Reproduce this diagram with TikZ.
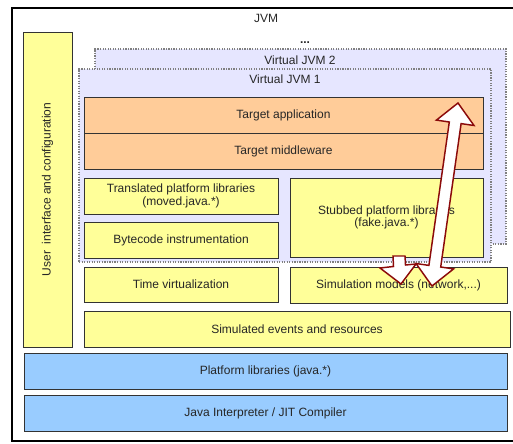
\documentclass[tikz,border=0pt]{standalone}
\usepackage{fontspec}
\setmainfont{Liberation Sans}
\usetikzlibrary{fit}
\definecolor{ylw}{HTML}{FFFF99}
\definecolor{org}{HTML}{FFCC99}
\definecolor{blu}{HTML}{99CCFF}
\definecolor{lav}{HTML}{E6E6FF}
\definecolor{arrowred}{HTML}{8B0A0A}
\begin{document}
\begin{tikzpicture}[x=0.75pt,y=-0.75pt,
  lbl/.style={font=\fontsize{9}{9.5}\selectfont, text=black!85, align=center, inner sep=0pt},
  box/.style={draw=black!80, line width=0.6pt, inner sep=0pt},
  ybox/.style={box, fill=ylw},
  obox/.style={box, fill=org},
  bbox/.style={box, fill=blu},
  vjvm/.style={draw=black!50, densely dotted, line width=0.9pt, fill=lav, inner sep=0pt},
  blockarrow/.style={draw=arrowred, fill=white, line width=1.1pt, line join=miter}]
\useasboundingbox (0,0) rectangle (513,443);
\begin{scope}
\clip (0,0) rectangle (513,443);
\node[draw=black, line width=1.5pt, inner sep=0pt, fit={(12,8)(520,441)}] (jvm) {};
\end{scope}
\node[lbl] (jvmlbl) at (266,18) {JVM};
% user interface
\node[ybox, fit={(23,32)(72,347)}] (ui) {};
\node[lbl, rotate=90] (uilbl) at (ui.center) {User\ \ interface and configuration};
% virtual JVMs
\node[lbl] (dots) at (305,43) {\textbf{...}};
\node[vjvm, fit={(95,49)(506,244)}] (vj2) {};
\node[lbl] (vj2lbl) at (300,60) {Virtual JVM 2};
\node[vjvm, fit={(79,69)(491,262)}] (vj1) {};
\node[lbl] (vj1lbl) at (285,79) {Virtual JVM 1};
% inner boxes
\node[obox, fit={(84,97)(483,133)}] (app) {};
\node[lbl] at (app.center) {Target application};
\node[obox, fit={(84,133)(483,169)}] (mw) {};
\node[lbl] at (mw.center) {Target middleware};
\node[ybox, fit={(84,178)(278,214)}] (trans) {};
\node[lbl] at (trans.center) {Translated platform libraries\\(moved.java.*)};
\node[ybox, fit={(84,222)(278,258)}] (bc) {};
\node[lbl] at (bc.center) {Bytecode instrumentation};
\node[ybox, fit={(290,178)(483,257)}] (stub) {};
\node[lbl] at (stub.center) {Stubbed platform libraries\\(fake.java.*)};
\node[ybox, fit={(84,267)(278,302)}] (time) {};
\node[lbl] at (time.center) {Time virtualization};
\node[ybox, fit={(290,267)(507,303)}] (sim) {};
\node[lbl] at (sim.center) {Simulation models (network,...)};
\node[ybox, fit={(84,311)(510,347)}] (ev) {};
\node[lbl] at (ev.center) {Simulated events and resources};
\node[bbox, fit={(24,353)(507,389)}] (plat) {};
\node[lbl] at (plat.center) {Platform libraries (java.*)};
\node[bbox, fit={(24,395)(507,431)}] (jit) {};
\node[lbl] at (jit.center) {Java Interpreter / JIT Compiler};
% block arrows
\draw[blockarrow] (393,256) -- (405,256) -- (405.5,265) -- (416,264) -- (401,284)
  -- (380,268) -- (393.5,266.5) -- cycle;
\draw[blockarrow] (458,103) -- (474,125.5) -- (461.1,123.6) -- (440.7,267.0)
  -- (453.6,268.9) -- (432,286) -- (416,263.5) -- (428.9,265.4) -- (449.3,122.0)
  -- (436.4,120.1) -- cycle;
\end{tikzpicture}
\end{document}
